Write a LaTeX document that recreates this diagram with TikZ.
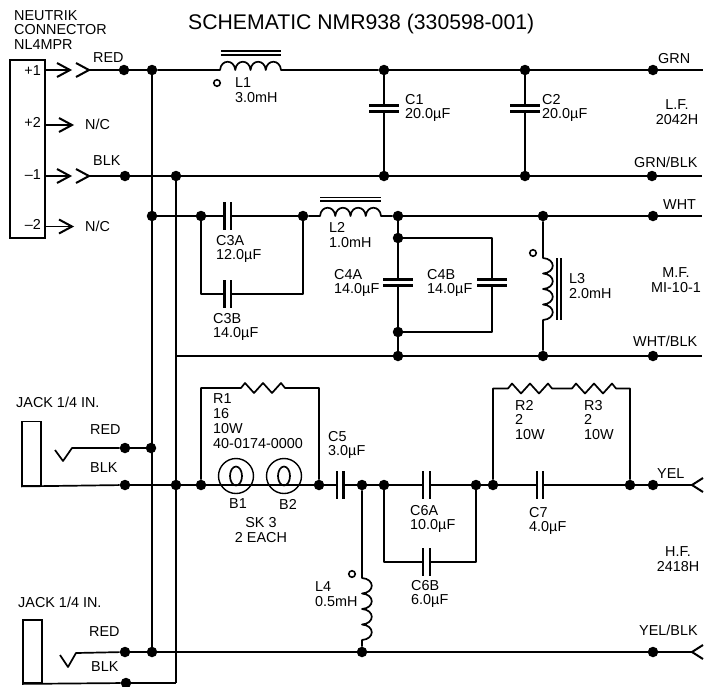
\documentclass[tikz,border=0pt]{standalone}
\usepackage{fontspec}
\setmainfont{Liberation Sans}
\tikzset{
  wire/.style={line width=1.7pt,line join=round},
  chv/.style={line width=2pt,line join=miter},
  plate/.style={line width=2.2pt},
  core/.style={line width=1.3pt},
  dot/.style={circle,fill=black,inner sep=0pt,minimum size=10.5pt},
  pol/.style={circle,draw,line width=1.6pt,inner sep=0pt,minimum size=6.5pt},
  lab/.style={inner sep=0pt,anchor=west,align=left,font=\fontsize{14.4}{14.8}\selectfont},
  mid/.style={lab,anchor=center,align=center},
  box/.style={draw,line width=1.8pt,inner sep=0pt},
  bulb/.style={circle,draw,line width=1.4pt,inner sep=0pt,minimum size=35pt}
}
% horizontal and vertical capacitors
\newcommand{\hcap}[3]{
  \coordinate (#1l) at (#2-3.2,#3);
  \coordinate (#1r) at (#2+3.2,#3);
  \draw[plate] (#1l) ++(0,-14) -- ++(0,28);
  \draw[plate] (#1r) ++(0,-14) -- ++(0,28);
}
\newcommand{\vcap}[3]{
  \coordinate (#1t) at (#2,#3-3);
  \coordinate (#1b) at (#2,#3+3);
  \draw[plate] (#1t) ++(-15,0) -- ++(30,0);
  \draw[plate] (#1b) ++(-15,0) -- ++(30,0);
}
% chevrons of the plugs
\newcommand{\chev}[1]{\draw[chv] (#1) ++(-13,-7) -- (#1) -- ++(-13,7);}
\newcommand{\chevr}[1]{\draw[chv] (#1) ++(11,-7) -- (#1) -- ++(11,7);}
\newcommand{\humph}{.. controls +(1,-11) and +(-1,-11) .. ++(15.25,0)}
\newcommand{\humpv}{.. controls +(13,1) and +(13,-1) .. ++(0,15.5)}
\newcommand{\zig}{-- ++(4,-5) -- ++(9,10) -- ++(9,-10) -- ++(9,10) -- ++(9,-10) -- ++(4,5)}
\begin{document}
\begin{tikzpicture}[x=1pt,y=-1pt]
\useasboundingbox (0,0) rectangle (715,686);
\node[inner sep=0pt,anchor=west,font=\fontsize{21.2}{24}\selectfont] (title) at (188,24) {SCHEMATIC NMR938 (330598-001)};
% connector block
\node[lab] (neutrik) at (14,30) {NEUTRIK\\CONNECTOR\\NL4MPR};
\node[box,minimum width=35pt,minimum height=178pt] (block) at (27.5,149) {};
\node[lab,anchor=east] (p1) at (41,71) {+1};
\node[lab,anchor=east] (p2) at (41,122) {+2};
\node[lab,anchor=east] (m1) at (41,175) {–1};
\node[lab,anchor=east] (m2) at (41,224) {–2};
\coordinate (p1a) at (45,70); \coordinate (p1b) at (70,70); \coordinate (p1c) at (89,70);
\coordinate (p2a) at (45,125); \coordinate (p2b) at (72,125);
\coordinate (m1a) at (45,176); \coordinate (m1b) at (70,176); \coordinate (m1c) at (89,176);
\coordinate (m2a) at (45,226.5); \coordinate (m2b) at (72,226.5);
\draw[wire] (p1a) -- (p1b);
\draw[wire] (p2a) -- (p2b);
\draw[wire] (m1a) -- (m1b);
\draw[wire] (m2a) -- (m2b);
\chev{p1b} \chev{p1c} \chev{p2b} \chev{m1b} \chev{m1c} \chev{m2b}
\node[lab] (red1) at (93,58) {RED};
\node[lab] (blk1) at (93,161) {BLK};
\node[lab] (nc1) at (85,124) {N/C};
\node[lab] (nc2) at (85,226) {N/C};
% junctions
\node[dot] (a1) at (124,70) {};
\node[dot] (a2) at (152,70) {};
\node[dot] (a3) at (384,70) {};
\node[dot] (a4) at (525,70) {};
\node[dot] (a5) at (653,70) {};
\node[dot] (b1) at (125,176) {};
\node[dot] (b2) at (176,176) {};
\node[dot] (b3) at (384,176) {};
\node[dot] (b4) at (525,176) {};
\node[dot] (b5) at (652,176) {};
\node[dot] (c1) at (152,216) {};
\node[dot] (c2) at (201,216) {};
\node[dot] (c3) at (303,216) {};
\node[dot] (c4) at (398,216) {};
\node[dot] (c5) at (543,216) {};
\node[dot] (c6) at (653,216) {};
\node[dot] (d1) at (398,238) {};
\node[dot] (d2) at (398,332) {};
\node[dot] (e1) at (398,356) {};
\node[dot] (e2) at (543,356) {};
\node[dot] (e3) at (653,356) {};
\node[dot] (f1) at (125,448) {};
\node[dot] (f2) at (151,448) {};
\node[dot] (g1) at (125,485) {};
\node[dot] (g2) at (176,485) {};
\node[dot] (g3) at (201,485) {};
\node[dot] (g4) at (319,485) {};
\node[dot] (g5) at (362,485) {};
\node[dot] (g6) at (384,485) {};
\node[dot] (g7) at (476,485) {};
\node[dot] (g8) at (493,485) {};
\node[dot] (g9) at (630,485) {};
\node[dot] (g10) at (653,485) {};
\node[dot] (h1) at (125,652) {};
\node[dot] (h2) at (152,652) {};
\node[dot] (h3) at (362,652) {};
\node[dot] (h4) at (653,652) {};
\node[dot] (k1) at (126,683) {};
% free ends
\coordinate (aend) at (703,70); \coordinate (bend) at (702,176);
\coordinate (cend) at (702,216); \coordinate (eend) at (702,356);
\coordinate (gend) at (692,485); \coordinate (hend) at (692,652);
\coordinate (erail) at (176,356); \coordinate (kend) at (176,683);
% low frequency section
\coordinate (l1a) at (220,70);
\draw[wire] (p1c) -- (a1);
\draw[wire] (a1) -- (a2);
\draw[wire] (a2) -- (l1a) \humph\humph\humph\humph -- (a3);
\draw[wire] (a3) -- (a4);
\draw[wire] (a4) -- (a5);
\draw[wire] (a5) -- (aend);
\draw[core] (221,51) -- (281,51) (221,55) -- (281,55);
\node[pol] (l1dot) at (217,83) {};
\node[lab] (l1) at (235,90.5) {L1\\3.0mH};
\draw[wire] (m1c) -- (b1);
\draw[wire] (b1) -- (b2);
\draw[wire] (b2) -- (b3);
\draw[wire] (b3) -- (b4);
\draw[wire] (b4) -- (b5);
\draw[wire] (b5) -- (bend);
\vcap{c1p}{384}{108.5}
\vcap{c2p}{525}{108.5}
\draw[wire] (a3) -- (c1pt);
\draw[wire] (c1pb) -- (b3);
\draw[wire] (a4) -- (c2pt);
\draw[wire] (c2pb) -- (b4);
\node[lab] (c1l) at (405,108) {C1\\20.0µF};
\node[lab] (c2l) at (542,108) {C2\\20.0µF};
\node[lab] (grn) at (658,59) {GRN};
\node[lab] (grnblk) at (634,162) {GRN/BLK};
\node[mid] (lf) at (677,112) {L.F.\\2042H};
% mid frequency section
\draw[wire] (a2) -- (h2);
\draw[wire] (b2) -- (kend);
\draw[wire] (erail) -- (e1);
\draw[wire] (e1) -- (e2);
\draw[wire] (e2) -- (e3);
\draw[wire] (e3) -- (eend);
\hcap{c3a}{227.7}{216}
\hcap{c3b}{227.7}{294}
\coordinate (c3u) at (201,294); \coordinate (c3v) at (303,294);
\coordinate (l2a) at (320,216);
\draw[wire] (c1) -- (c2);
\draw[wire] (c2) -- (c3al);
\draw[wire] (c3ar) -- (c3);
\draw[wire] (c2) -- (c3u) -- (c3bl);
\draw[wire] (c3br) -- (c3v) -- (c3);
\draw[wire] (c3) -- (l2a) \humph\humph\humph\humph -- (c4);
\draw[wire] (c4) -- (c5);
\draw[wire] (c5) -- (c6);
\draw[wire] (c6) -- (cend);
\draw[core] (320,197.5) -- (381,197.5) (320,201) -- (381,201);
\node[lab] (c3al2) at (216,249) {C3A\\12.0µF};
\node[lab] (c3bl2) at (213,327) {C3B\\14.0µF};
\node[lab] (l2) at (329,235) {L2\\1.0mH};
\vcap{c4a}{398}{282.5}
\vcap{c4b}{492}{282.5}
\coordinate (c4bu) at (492,238); \coordinate (c4bd) at (492,332);
\draw[wire] (c4) -- (d1);
\draw[wire] (d1) -- (c4at);
\draw[wire] (c4ab) -- (d2);
\draw[wire] (d2) -- (e1);
\draw[wire] (d1) -- (c4bu) -- (c4bt);
\draw[wire] (c4bb) -- (c4bd) -- (d2);
\node[lab] (c4al) at (334,283) {C4A\\14.0µF};
\node[lab] (c4bl) at (427,283) {C4B\\14.0µF};
\coordinate (l3a) at (543,258);
\draw[wire] (c5) -- (l3a) \humpv\humpv\humpv\humpv -- (e2);
\draw[core] (557,258) -- (557,320) (561,258) -- (561,320);
\node[pol] (l3dot) at (533,253) {};
\node[lab] (l3) at (569,286) {L3\\2.0mH};
\node[lab] (wht) at (663,205) {WHT};
\node[lab] (whtblk) at (633,341) {WHT/BLK};
\node[mid] (mf) at (676,280) {M.F.\\MI-10-1};
% first jack
\node[lab] (jack1) at (16,402) {JACK 1/4 IN.};
\node[box,minimum width=19pt,minimum height=64pt] (j1) at (31.5,453.5) {};
\coordinate (j1a) at (55,450); \coordinate (j1b) at (63,461); \coordinate (j1c) at (72,448);
\draw[wire] (j1a) -- (j1b) -- (j1c) -- (f1);
\draw[wire] (f1) -- (f2);
\draw[wire] (j1.south west) -- (g1);
\draw[wire] (g1) -- (g2);
\draw[wire] (g2) -- (g3);
\node[lab] (red2) at (90,430) {RED};
\node[lab] (blk2) at (90,468) {BLK};
% high frequency section
\node[bulb] (b1b) at (236,476) {};
\node[bulb] (b2b) at (284,476) {};
\draw[wire] (b1b.center) ellipse (6 and 9.5);
\draw[wire] (b2b.center) ellipse (6 and 9.5);
\draw[wire] (g3) -- (g4);
\coordinate (r1t) at (201,388); \coordinate (r1u) at (319,388); \coordinate (r1a) at (241,388);
\draw[wire] (g3) -- (r1t) -- (r1a) \zig -- (r1u) -- (g4);
\node[lab] (r1) at (213,421) {R1\\16\\10W\\40-0174-0000};
\node[lab] (b1l) at (229,504) {B1};
\node[lab] (b2l) at (279,504) {B2};
\node[mid] (sk) at (261,530) {SK 3\\2 EACH};
\hcap{c5p}{340.3}{485}
\draw[wire] (g4) -- (c5pl);
\draw[wire] (c5pr) -- (g5);
\node[lab] (c5l) at (328,445) {C5\\3.0µF};
\draw[wire] (g5) -- (g6);
\hcap{c6a}{426.5}{485}
\hcap{c6b}{426.5}{562}
\coordinate (c6u) at (384,562); \coordinate (c6v) at (476,562);
\draw[wire] (g6) -- (c6al);
\draw[wire] (c6ar) -- (g7);
\draw[wire] (g6) -- (c6u) -- (c6bl);
\draw[wire] (c6br) -- (c6v) -- (g7);
\draw[wire] (g7) -- (g8);
\node[lab] (c6al2) at (410,519) {C6A\\10.0µF};
\node[lab] (c6bl2) at (411,594) {C6B\\6.0µF};
\hcap{c7p}{540}{485}
\draw[wire] (g8) -- (c7pl);
\draw[wire] (c7pr) -- (g9);
\node[lab] (c7l) at (529,521) {C7\\4.0µF};
\coordinate (r2t) at (493,388.5); \coordinate (r2a) at (508,388.5); \coordinate (r3t) at (630,388.5); \coordinate (r3a) at (572,388.5);
\draw[wire] (g8) -- (r2t) -- (r2a) \zig -- (r3a) \zig -- (r3t) -- (g9);
\node[lab] (r2) at (515,420) {R2\\2\\10W};
\node[lab] (r3) at (584,420) {R3\\2\\10W};
\draw[wire] (g9) -- (g10);
\draw[wire] (g10) -- (gend);
\chevr{gend}
\node[lab] (yel) at (657,474) {YEL};
\node[mid] (hf) at (678,559) {H.F.\\2418H};
\coordinate (l4a) at (362,578);
\draw[wire] (g5) -- (l4a) \humpv\humpv\humpv\humpv -- (h3);
\node[pol] (l4dot) at (352,574) {};
\node[lab] (l4) at (315,594) {L4\\0.5mH};
% second jack
\node[lab] (jack2) at (18,602) {JACK 1/4 IN.};
\node[box,minimum width=19pt,minimum height=63pt] (j2) at (32.5,651.5) {};
\coordinate (j2a) at (60,655); \coordinate (j2b) at (68,667); \coordinate (j2c) at (76,653);
\draw[wire] (j2a) -- (j2b) -- (j2c) -- (h1);
\draw[wire] (h1) -- (h2);
\draw[wire] (h2) -- (h3);
\draw[wire] (h3) -- (h4);
\draw[wire] (h4) -- (hend);
\chevr{hend}
\draw[wire] (j2.south west) -- (k1);
\draw[wire] (k1) -- (kend);
\node[lab] (red3) at (89,632) {RED};
\node[lab] (blk3) at (91,667) {BLK};
\node[lab] (yelblk) at (639,630) {YEL/BLK};
\end{tikzpicture}
\end{document}
